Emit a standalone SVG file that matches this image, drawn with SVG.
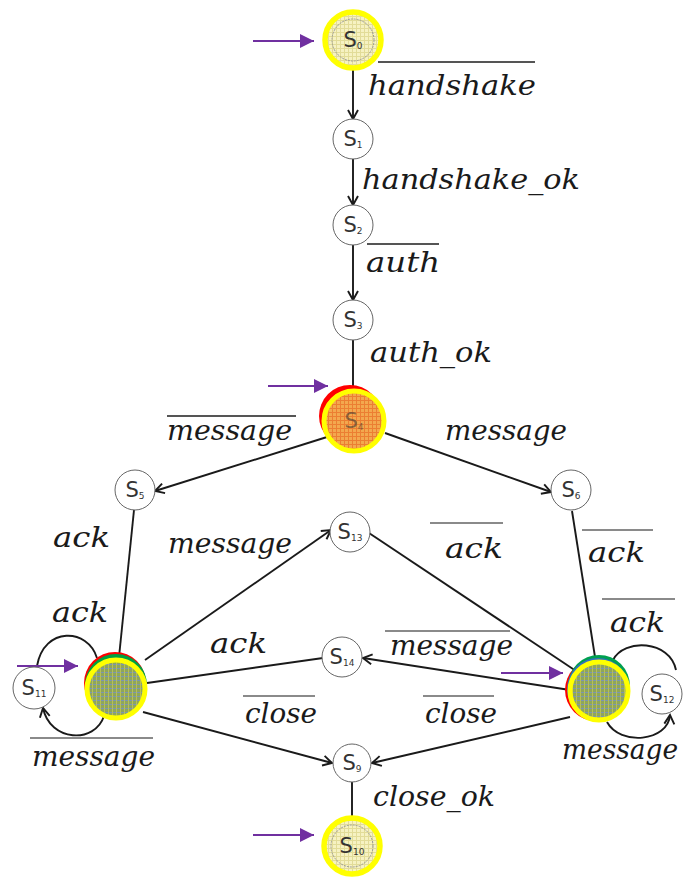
<svg xmlns="http://www.w3.org/2000/svg" width="686" height="878" viewBox="0 0 686 878">
<style>
.edge{stroke:#1a1a1a;stroke-width:1.9;fill:none}
.arr{marker-end:url(#ah)}
.st{font-family:"DejaVu Sans",sans-serif;font-size:21px;fill:#333;text-anchor:middle}
.sub{font-size:9px}
.sn{fill:#fff;stroke:#666;stroke-width:1}
.lb{font-family:"DejaVu Serif",serif;font-style:italic;font-size:28px;fill:#1a1a1a}
.ov{stroke:#8a8a8a;stroke-width:2}
.ovd{stroke:#555;stroke-width:2}
.init{stroke:#7030A0;stroke-width:2;marker-end:url(#pa)}
</style>
<defs>
<marker id="ah" markerUnits="userSpaceOnUse" markerWidth="12" markerHeight="12" refX="10" refY="5.5" orient="auto" overflow="visible">
<path d="M1,0.5 L10,5.5 L1,10.5" fill="none" stroke="#1a1a1a" stroke-width="1.9"/>
</marker>
<marker id="pa" markerUnits="userSpaceOnUse" markerWidth="16" markerHeight="16" refX="14" refY="7" orient="auto">
<path d="M0,0 L14,7 L0,14 Z" fill="#7030A0"/>
</marker>
<pattern id="pY" width="4" height="4" patternUnits="userSpaceOnUse">
<rect width="4" height="4" fill="#F6F2C2"/>
<path d="M0,0.5H4M0.5,0V4" stroke="#E2DC98" stroke-width="1"/>
</pattern>
<pattern id="pO" width="4" height="4" patternUnits="userSpaceOnUse">
<rect width="4" height="4" fill="#F3A84E"/>
<path d="M0,0.5H4M0.5,0V4" stroke="#EC7E32" stroke-width="1"/>
</pattern>
<pattern id="pG" width="4" height="4" patternUnits="userSpaceOnUse">
<rect width="4" height="4" fill="#8FA65A"/>
<path d="M0,0.5H4" stroke="#7C95B4" stroke-width="1"/>
<path d="M0.5,0V4" stroke="#B6BE5A" stroke-width="1"/>
</pattern>
</defs>
<rect width="686" height="878" fill="#fff"/>

<g id="connectors">
<line class="edge arr" x1="353" y1="70" x2="353" y2="119"/>
<line class="edge arr" x1="353" y1="159" x2="353" y2="205"/>
<line class="edge arr" x1="353" y1="245" x2="353" y2="300"/>
<line class="edge" x1="353" y1="340" x2="353" y2="388"/>
<line class="edge arr" x1="327" y1="437" x2="155" y2="491"/>
<line class="edge arr" x1="385" y1="433" x2="551" y2="492"/>
<line class="edge" x1="134" y1="510" x2="119" y2="657"/>
<line class="edge arr" x1="145" y1="660" x2="331" y2="530"/>
<line class="edge" x1="369" y1="533" x2="576" y2="671"/>
<line class="edge" x1="572" y1="511" x2="595" y2="657"/>
<line class="edge arr" x1="570" y1="690" x2="363" y2="658"/>
<line class="edge" x1="323" y1="658" x2="147" y2="683"/>
<line class="edge arr" x1="143" y1="712" x2="332" y2="763"/>
<line class="edge arr" x1="570" y1="717" x2="372" y2="763"/>
<line class="edge" x1="352" y1="782" x2="352" y2="816"/>
<path class="edge" d="M97,658 C88,628 44,626 37,666"/>
<path class="edge arr" d="M104,716 C95,744 50,742 43,708"/>
<path class="edge" d="M613,660 C624,638 670,640 676,670"/>
<path class="edge arr" d="M607,722 C620,746 668,742 670,715"/>
<line class="init" x1="253" y1="41" x2="314" y2="41"/>
<line class="init" x1="268" y1="386" x2="328" y2="386"/>
<line class="init" x1="17" y1="666" x2="78" y2="666"/>
<line class="init" x1="501" y1="673" x2="563" y2="673"/>
<line class="init" x1="253" y1="835" x2="314" y2="835"/>
</g>

<g id="s0">
<circle cx="353" cy="40" r="28" fill="url(#pY)" stroke="#FFFF00" stroke-width="5.5"/>
<circle cx="353" cy="40" r="21" fill="none" stroke="#999" stroke-width="1" stroke-dasharray="2,1"/>
<text class="st" x="353" y="47">S<tspan class="sub" dy="2">0</tspan></text>
</g>
<g id="s1">
<circle class="sn" cx="353" cy="139" r="20"/>
<text class="st" x="353" y="146">S<tspan class="sub" dy="2">1</tspan></text>
</g>
<g id="s2">
<circle class="sn" cx="353" cy="225" r="20"/>
<text class="st" x="353" y="232">S<tspan class="sub" dy="2">2</tspan></text>
</g>
<g id="s3">
<circle class="sn" cx="353" cy="320" r="20"/>
<text class="st" x="353" y="327">S<tspan class="sub" dy="2">3</tspan></text>
</g>
<g id="s4">
<circle cx="350" cy="416" r="31" fill="#FF0000"/>
<circle cx="354" cy="421" r="30" fill="url(#pO)" stroke="#FFFF00" stroke-width="5"/>
<text class="st" x="354" y="428" fill="#B07A30" opacity="0.55">S<tspan class="sub" dy="2">4</tspan></text>
</g>
<g id="s5">
<circle class="sn" cx="135" cy="490" r="20"/>
<text class="st" x="135" y="497">S<tspan class="sub" dy="2">5</tspan></text>
</g>
<g id="s6">
<circle class="sn" cx="571" cy="490" r="20"/>
<text class="st" x="571" y="497">S<tspan class="sub" dy="2">6</tspan></text>
</g>
<g id="s7">
<circle cx="115" cy="683" r="31" fill="#FF0000"/>
<circle cx="116" cy="685" r="31" fill="#00A040"/>
<circle cx="116" cy="689" r="29" fill="url(#pG)" stroke="#FFFF00" stroke-width="5"/>
</g>
<g id="s8">
<circle cx="596" cy="690" r="31" fill="#FF0000"/>
<circle cx="599" cy="686" r="31" fill="#00A050"/>
<circle cx="598" cy="689" r="31" fill="#3070C0"/>
<circle cx="599" cy="691" r="29" fill="url(#pG)" stroke="#FFFF00" stroke-width="5"/>
</g>
<g id="s9">
<circle class="sn" cx="352" cy="763" r="19"/>
<text class="st" x="352" y="770">S<tspan class="sub" dy="2">9</tspan></text>
</g>
<g id="s10">
<circle cx="352" cy="846" r="28" fill="url(#pY)" stroke="#FFFF00" stroke-width="5.5"/>
<circle cx="352" cy="846" r="21" fill="none" stroke="#999" stroke-width="1" stroke-dasharray="2,1"/>
<text class="st" x="352" y="853">S<tspan class="sub" dy="2">10</tspan></text>
</g>
<g id="s11">
<circle class="sn" cx="34" cy="688" r="21"/>
<text class="st" x="34" y="695">S<tspan class="sub" dy="2">11</tspan></text>
</g>
<g id="s12">
<circle class="sn" cx="662" cy="694" r="20"/>
<text class="st" x="662" y="701">S<tspan class="sub" dy="2">12</tspan></text>
</g>
<g id="s13">
<circle class="sn" cx="350" cy="532" r="20"/>
<text class="st" x="350" y="539">S<tspan class="sub" dy="2">13</tspan></text>
</g>
<g id="s14">
<circle class="sn" cx="342" cy="657" r="20"/>
<text class="st" x="342" y="664">S<tspan class="sub" dy="2">14</tspan></text>
</g>

<g id="labels">
<line class="ovd" x1="378" y1="62" x2="535" y2="62"/>
<text class="lb" x="368" y="95" textLength="168" lengthAdjust="spacingAndGlyphs">handshake</text>
<text class="lb" x="362" y="189" textLength="218" lengthAdjust="spacingAndGlyphs">handshake_ok</text>
<line class="ovd" x1="367" y1="244" x2="439" y2="244"/>
<text class="lb" x="366" y="272" textLength="74" lengthAdjust="spacingAndGlyphs">auth</text>
<text class="lb" x="370" y="362" textLength="122" lengthAdjust="spacingAndGlyphs">auth_ok</text>
<line class="ovd" x1="167" y1="416" x2="296" y2="416"/>
<text class="lb" x="167" y="440" textLength="125" lengthAdjust="spacingAndGlyphs">message</text>
<text class="lb" x="445" y="440" textLength="122" lengthAdjust="spacingAndGlyphs">message</text>
<text class="lb" x="53" y="547" textLength="57" lengthAdjust="spacingAndGlyphs">ack</text>
<text class="lb" x="168" y="553" textLength="124" lengthAdjust="spacingAndGlyphs">message</text>
<line class="ov" x1="430" y1="523" x2="503" y2="523"/>
<text class="lb" x="445" y="558" textLength="58" lengthAdjust="spacingAndGlyphs">ack</text>
<line class="ov" x1="582" y1="530" x2="653" y2="530"/>
<text class="lb" x="588" y="562" textLength="57" lengthAdjust="spacingAndGlyphs">ack</text>
<text class="lb" x="52" y="622" textLength="56" lengthAdjust="spacingAndGlyphs">ack</text>
<line class="ov" x1="602" y1="599" x2="675" y2="599"/>
<text class="lb" x="610" y="632" textLength="55" lengthAdjust="spacingAndGlyphs">ack</text>
<text class="lb" x="210" y="653" textLength="57" lengthAdjust="spacingAndGlyphs">ack</text>
<line class="ov" x1="385" y1="631" x2="510" y2="631"/>
<text class="lb" x="390" y="655" textLength="123" lengthAdjust="spacingAndGlyphs">message</text>
<line class="ov" x1="243" y1="696" x2="315" y2="696"/>
<text class="lb" x="245" y="723" textLength="72" lengthAdjust="spacingAndGlyphs">close</text>
<line class="ov" x1="423" y1="696" x2="494" y2="696"/>
<text class="lb" x="425" y="723" textLength="72" lengthAdjust="spacingAndGlyphs">close</text>
<line class="ov" x1="30" y1="738" x2="153" y2="738"/>
<text class="lb" x="32" y="766" textLength="123" lengthAdjust="spacingAndGlyphs">message</text>
<text class="lb" x="562" y="759" textLength="116" lengthAdjust="spacingAndGlyphs">message</text>
<text class="lb" x="373" y="806" textLength="122" lengthAdjust="spacingAndGlyphs">close_ok</text>
</g>
</svg>
